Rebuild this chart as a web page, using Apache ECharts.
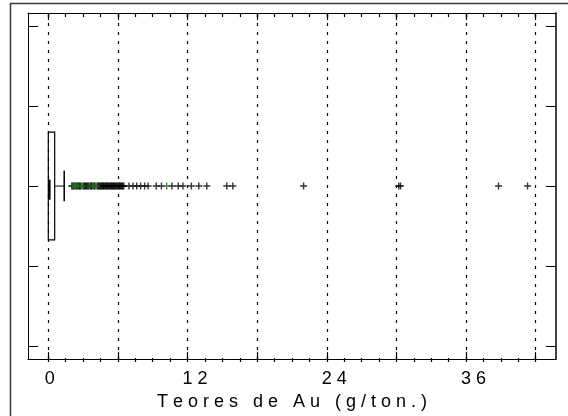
<!DOCTYPE html>
<html>
<head>
<meta charset="utf-8">
<script src="https://cdn.jsdelivr.net/npm/echarts@6/dist/echarts.min.js"></script>
<style>
  html, body { margin: 0; padding: 0; background: #fff; }
  #chart { width: 568px; height: 416px; }
</style>
</head>
<body>
<div id="chart"></div>
<script>
// Box-and-whisker summary of gold grades (g/ton)
const boxStats = [0.0, 0.0, 0.1, 0.55, 1.37]; // lower whisker, Q1, median, Q3, upper whisker
const boxRow = 2;

// Individual points beyond the upper whisker
const outliers = [
  2.02, 2.12, 2.20, 2.38, 2.45, 2.62, 2.70, 2.78, 3.05, 3.12, 3.20, 3.28, 3.35,
  3.45, 3.62, 3.70, 3.75, 3.90, 3.98, 4.25, 4.32, 4.40, 4.48, 4.55, 4.62, 4.68,
  4.75, 4.80, 4.88, 4.95, 5.02, 5.10, 5.16, 5.22, 5.30, 5.38, 5.44, 5.50, 5.57,
  5.63, 5.70, 5.78, 5.85, 5.92, 6.00, 6.08, 6.14, 6.20, 6.28, 6.35, 6.42, 6.50,
  6.95, 7.30, 7.62, 7.95, 8.30, 8.60, 9.30, 9.75, 10.65, 11.20, 11.60, 12.33,
  12.97, 13.66, 15.38, 15.90, 22.0, 30.20, 30.35, 38.8, 41.3
];
const outliersGreen = [2.08, 2.25, 2.30, 2.50, 2.55, 2.85, 2.95, 3.55, 3.85, 4.05, 4.15, 10.2];

// Axis ticks and labels
const xMajorTicks = [0, 6, 12, 18, 24, 30, 36, 42];
const xMinorTicks = [0, 1.5, 3, 4.5, 6, 7.5, 9, 10.5, 12, 13.5, 15, 16.5, 18, 19.5, 21,
  22.5, 24, 25.5, 27, 28.5, 30, 31.5, 33, 34.5, 36, 37.5, 39, 40.5, 42];
const xLabels = [0, 12, 24, 36];
const yTicks = [0, 1, 2, 3, 4];
const axisTitle = 'Teores de Au (g/ton.)';

const FONT = 'Liberation Sans, Arial, Helvetica, sans-serif';
const spaced = s => s.split(' ').map(w => w.split('').join(' ')).join('   ');

const X_MIN = -1.75, X_MAX = 43.75;
const Y_MIN = -0.161, Y_MAX = 4.161;
const gridRect = { left: 28, top: 13, right: 12, bottom: 54 };

const plusPath = 'path://M-1,-0.2L-0.2,-0.2L-0.2,-1L0.2,-1L0.2,-0.2L1,-0.2L1,0.2L0.2,0.2L0.2,1L-0.2,1L-0.2,0.2L-1,0.2Z';

function renderBox(params, api) {
  const lo = api.value(0), q1 = api.value(1), med = api.value(2),
        q3 = api.value(3), hi = api.value(4), row = api.value(5);
  const halfBox = 0.673, halfCap = 0.19;
  const tl = api.coord([q1, row + halfBox]);
  const br = api.coord([q3, row - halfBox]);
  const wStart = api.coord([q3, row]);
  const wEnd = api.coord([hi, row]);
  const capTop = api.coord([hi, row + halfCap]);
  const capBot = api.coord([hi, row - halfCap]);
  const medTop = api.coord([med, row + 0.08]);
  const medBot = api.coord([med, row - 0.17]);
  const lowStart = api.coord([lo, row]);
  const lowEnd = api.coord([q1, row]);
  const line = { stroke: '#000', lineWidth: 1 };
  return {
    type: 'group',
    children: [
      { type: 'rect', shape: { x: tl[0], y: tl[1], width: br[0] - tl[0], height: br[1] - tl[1] },
        style: { fill: 'rgba(0,0,0,0)', stroke: '#000', lineWidth: 1.2 } },
      { type: 'line', shape: { x1: wStart[0], y1: wStart[1], x2: wEnd[0], y2: wEnd[1] }, style: line },
      { type: 'line', shape: { x1: lowStart[0], y1: lowStart[1], x2: lowEnd[0], y2: lowEnd[1] }, style: line },
      { type: 'line', shape: { x1: capTop[0], y1: capTop[1], x2: capBot[0], y2: capBot[1] }, style: { stroke: '#000', lineWidth: 1.5 } },
      { type: 'line', shape: { x1: medTop[0], y1: medTop[1], x2: medBot[0], y2: medBot[1] }, style: { stroke: '#000', lineWidth: 2.2 } }
    ]
  };
}

const chart = echarts.init(document.getElementById('chart'), null, { renderer: 'canvas' });

const hiddenLabel = { show: false };
const labelRich = {
  one: { fontSize: 18, fontFamily: FONT, color: '#000', padding: [0, 0, 0, 3] },
  two: { fontSize: 18, fontFamily: FONT, color: '#000', padding: [0, 0, 0, 15] }
};

chart.setOption({
  backgroundColor: '#fff',
  animation: false,
  graphic: [{
    type: 'rect',
    shape: { x: 10.5, y: 3.5, width: 600, height: 500 },
    style: { fill: 'none', stroke: '#3a3a3a', lineWidth: 1.5 },
    silent: true, z: 0
  }],
  grid: [
    Object.assign({}, gridRect),
    Object.assign({}, gridRect)
  ],
  xAxis: [
    {
      type: 'value', gridIndex: 0, position: 'bottom', min: X_MIN, max: X_MAX,
      axisLine: { show: true, onZero: false, lineStyle: { color: '#000', width: 1.2 } },
      axisTick: { show: true, inside: true, length: 7, customValues: xMajorTicks, lineStyle: { color: '#000', width: 1.2 } },
      axisLabel: {
        show: true, customValues: xLabels, margin: 11,
        fontSize: 18, fontFamily: FONT, color: '#000',
        formatter: v => (String(v).length === 1 ? '{one|' + v + '}' : '{two|' + String(v).split('').join(' ') + '}'),
        rich: labelRich
      },
      splitLine: { show: false },
      name: spaced(axisTitle), nameLocation: 'middle', nameGap: 30,
      nameTextStyle: { fontSize: 18, fontFamily: FONT, color: '#000' }
    },
    {
      type: 'value', gridIndex: 0, position: 'top', min: X_MIN, max: X_MAX,
      axisLine: { show: true, onZero: false, lineStyle: { color: '#000', width: 1 } },
      axisTick: { show: true, inside: true, length: 7, customValues: xMajorTicks, lineStyle: { color: '#000', width: 1.2 } },
      axisLabel: hiddenLabel, splitLine: { show: false }
    },
    {
      type: 'value', gridIndex: 1, position: 'bottom', min: X_MIN, max: X_MAX,
      axisLine: { show: false, onZero: false },
      axisTick: { show: true, inside: true, length: 4, customValues: xMinorTicks, lineStyle: { color: '#000', width: 1.2 } },
      axisLabel: hiddenLabel, splitLine: { show: false }
    },
    {
      type: 'value', gridIndex: 1, position: 'top', min: X_MIN, max: X_MAX,
      axisLine: { show: false, onZero: false },
      axisTick: { show: true, inside: true, length: 4, customValues: xMinorTicks, lineStyle: { color: '#000', width: 1.2 } },
      axisLabel: hiddenLabel, splitLine: { show: false }
    }
  ],
  yAxis: [
    {
      type: 'value', gridIndex: 0, position: 'left', min: Y_MIN, max: Y_MAX,
      axisLine: { show: true, onZero: false, lineStyle: { color: '#000', width: 1 } },
      axisTick: { show: true, inside: true, length: 10, customValues: yTicks, lineStyle: { color: '#000', width: 1 } },
      axisLabel: hiddenLabel, splitLine: { show: false }
    },
    {
      type: 'value', gridIndex: 0, position: 'right', min: Y_MIN, max: Y_MAX,
      axisLine: { show: true, onZero: false, lineStyle: { color: '#444', width: 2 } },
      axisTick: { show: true, inside: true, length: 10, customValues: yTicks, lineStyle: { color: '#000', width: 1 } },
      axisLabel: hiddenLabel, splitLine: { show: false }
    },
    {
      type: 'value', gridIndex: 1, min: Y_MIN, max: Y_MAX, show: false,
      axisLine: { onZero: false }
    }
  ],
  series: [
    {
      type: 'custom', xAxisIndex: 0, yAxisIndex: 0, z: 2,
      renderItem: renderBox,
      data: [[...boxStats, boxRow]],
      markLine: {
        silent: true, symbol: ['none', 'none'], label: { show: false },
        lineStyle: { color: '#000', width: 1.2, type: [3, 6] },
        emphasis: { disabled: true },
        data: xMajorTicks.map(v => ({ xAxis: v }))
      }
    },
    {
      type: 'scatter', xAxisIndex: 0, yAxisIndex: 0, z: 3,
      symbol: plusPath, symbolSize: 7,
      itemStyle: { color: '#000' },
      data: outliers.map(v => [v, boxRow])
    },
    {
      type: 'scatter', xAxisIndex: 0, yAxisIndex: 0, z: 4,
      symbol: plusPath, symbolSize: 7,
      itemStyle: { color: '#1e6b1e' },
      data: outliersGreen.map(v => [v, boxRow])
    }
  ]
});
</script>
</body>
</html>
